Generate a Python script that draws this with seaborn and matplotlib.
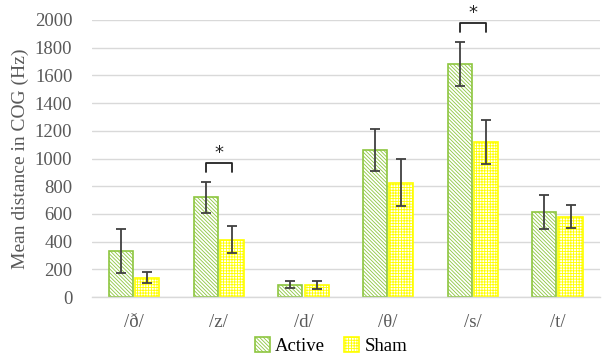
import numpy as np
import pandas as pd
import seaborn as sns
import matplotlib.pyplot as plt

# data
phonemes = ['/ð/', '/z/', '/d/', '/θ/', '/s/', '/t/']
groups = ['Active', 'Sham']
active_mean = [330, 720, 90, 1060, 1680, 615]
active_err = [160, 110, 25, 150, 160, 125]
sham_mean = [140, 415, 85, 825, 1120, 580]
sham_err = [40, 100, 30, 170, 160, 85]
significant = ['/z/', '/s/']

colors = {'Active': '#8DC63F', 'Sham': '#FFFF00'}
hatches = {'Active': '\\' * 9, 'Sham': '+' * 6}
text_color = '#595959'
grid_color = '#D9D9D9'

df = pd.DataFrame({
	'Phoneme': phonemes * 2,
	'Group': ['Active'] * len(phonemes) + ['Sham'] * len(phonemes),
	'Mean': active_mean + sham_mean,
})
errs = {'Active': active_err, 'Sham': sham_err}

sns.set_style('white')
plt.rcParams['font.family'] = ['Liberation Serif', 'DejaVu Serif']
plt.rcParams['hatch.linewidth'] = 0.6

fig = plt.figure(figsize=(6.04, 3.57), dpi=100)
ax = fig.add_axes([0.152, 0.168, 0.841, 0.776])
ax.set_axisbelow(True)
ax.yaxis.grid(True, color=grid_color, linewidth=1.0)

sns.barplot(data=df, x='Phoneme', y='Mean', hue='Group', order=phonemes,
			hue_order=groups, palette=colors, width=0.62, gap=0.08,
			fill=False, legend=False, ax=ax, linewidth=1.2)

# hatching, white faces and error bars
for grp, cont in zip(groups, ax.containers):
	xs = []
	hs = []
	for bar in cont:
		bar.set_hatch(hatches[grp])
		bar.set_facecolor('white')
		bar.set_edgecolor(colors[grp])
		xs.append(bar.get_x() + bar.get_width() / 2)
		hs.append(bar.get_height())
	ax.errorbar(xs, hs, yerr=errs[grp], fmt='none', ecolor='#404040',
				elinewidth=1.3, capsize=3.5, capthick=1.3, zorder=5)

# significance brackets
for ph in significant:
	i = phonemes.index(ph)
	xa = ax.containers[0][i].get_x() + ax.containers[0][i].get_width() / 2
	xb = ax.containers[1][i].get_x() + ax.containers[1][i].get_width() / 2
	top = max(active_mean[i] + active_err[i], sham_mean[i] + sham_err[i]) + 140
	ax.plot([xa, xa, xb, xb], [top - 70, top, top, top - 70], color='#222222', lw=1.3)
	ax.text((xa + xb) / 2, top + 5, '*', ha='center', va='bottom', fontsize=13,
			color='#222222', family='DejaVu Sans')

ax.set_ylim(0, 2000)
ax.set_xlim(-0.5, len(phonemes) - 0.5)
ax.set_yticks(range(0, 2001, 200))
ax.tick_params(axis='both', length=0, labelsize=13.5, labelcolor=text_color)
ax.tick_params(axis='y', pad=14)
ax.tick_params(axis='x', pad=12)
ax.set_xlabel('')
ax.set_ylabel('Mean distance in COG (Hz)', fontsize=14, color=text_color, labelpad=4)
for s in ['top', 'right', 'left']:
	ax.spines[s].set_visible(False)
ax.spines['bottom'].set_color(grid_color)
ax.spines['bottom'].set_linewidth(1.0)

fig.legend([c[0] for c in ax.containers], groups, loc='center',
		   bbox_to_anchor=(0.548, 0.03), ncol=2, frameon=False,
		   fontsize=13.5, handlelength=0.8, handleheight=0.8,
		   handletextpad=0.3, columnspacing=1.0, labelcolor='black')

fig.savefig('out.png', dpi=100)
